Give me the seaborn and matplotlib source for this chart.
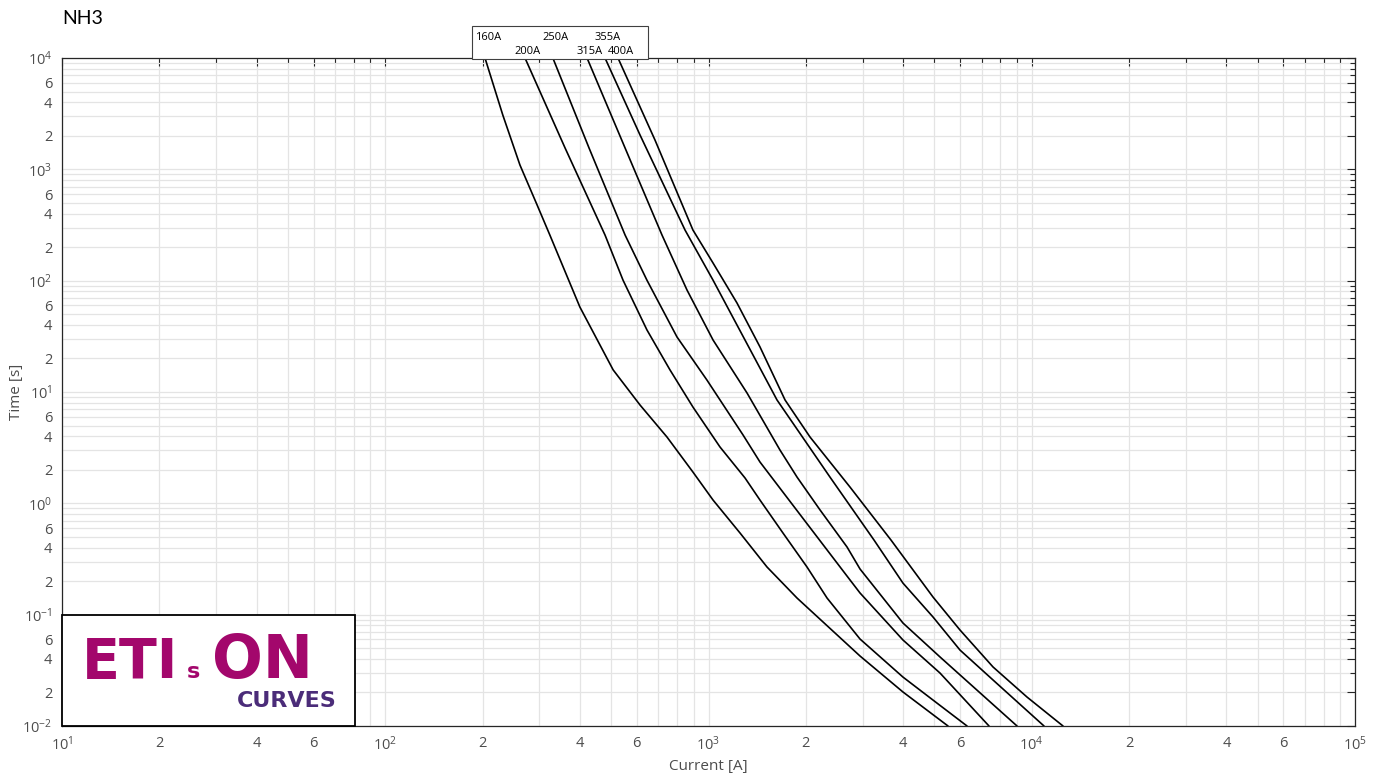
import numpy as np
import pandas as pd
import matplotlib
matplotlib.use('Agg')
import matplotlib.pyplot as plt
import seaborn as sns
from matplotlib import ticker, transforms
from matplotlib.patches import Rectangle

# curvas tiempo-corriente (corriente [A], tiempo [s])
ratings = ['160A', '200A', '250A', '315A', '355A', '400A']

i_160 = [203.5, 231, 261, 295, 323, 400, 507, 614, 744, 895, 1033, 1252, 1517, 1879, 2943, 3996, 5507]
t_160 = [10000, 3076, 1094, 478, 257, 58.0, 15.8, 7.64, 3.94, 1.91, 1.07, 0.541, 0.268, 0.141, 0.0425, 0.0202, 0.01]

i_200 = [270.6, 360, 478.5, 544, 645, 760, 895, 1085, 1297, 1443, 1700, 2017, 2327, 2943, 3996, 4949, 6306]
t_200 = [10000, 1555, 257, 101, 36.1, 15.8, 7.33, 3.21, 1.69, 1.07, 0.541, 0.268, 0.141, 0.0604, 0.0275, 0.0171, 0.01]

i_250 = [330, 427, 552, 645, 799, 989, 1279, 1443, 1988, 2740, 2943, 3996, 5202, 7375]
t_250 = [10000, 1555, 257, 101, 31.2, 12.8, 4.11, 2.35, 0.694, 0.205, 0.1565, 0.0592, 0.0299, 0.01]

i_315 = [421, 552, 718, 858, 1033, 1316, 1664, 1879, 2214, 2683, 2943, 3996, 5202, 6770, 9004]
t_315 = [10000, 1555, 257, 82.4, 29.3, 9.79, 3.01, 1.72, 0.871, 0.405, 0.257, 0.0841, 0.0417, 0.0210, 0.01]

i_355 = [478.5, 614, 846, 1033, 1297, 1629, 2376, 3251, 3996, 4949, 5998, 7589, 10912]
t_355 = [10000, 2034, 285, 101, 29.3, 8.48, 1.72, 0.468, 0.192, 0.0953, 0.0481, 0.0259, 0.01]

i_400 = [524.8, 683, 895, 1033, 1225, 1443, 1725, 2061, 2740, 3669, 4949, 5998, 7589, 9668, 12494]
t_400 = [10000, 1834, 285, 144, 63.0, 25.4, 8.48, 3.94, 1.40, 0.468, 0.144, 0.0728, 0.0339, 0.0182, 0.01]

currents = [i_160, i_200, i_250, i_315, i_355, i_400]
times = [t_160, t_200, t_250, t_315, t_355, t_400]

rows = []
for r, ii, tt in zip(ratings, currents, times):
    for a, b in zip(ii, tt):
        rows.append({'rating': r, 'current': a, 'time': b})
df = pd.DataFrame(rows)

sns.set_theme(style='white')
plt.rcParams['font.family'] = ['Open Sans', 'DejaVu Sans']
plt.rcParams['mathtext.default'] = 'regular'
plt.rcParams['axes.unicode_minus'] = False

W, H = 1380, 782
fig = plt.figure(figsize=(W / 100, H / 100), dpi=100)
ax = fig.add_axes([62 / W, 1 - 726 / H, (1355 - 62) / W, (726 - 58) / H])

sns.lineplot(data=df, x='current', y='time', units='rating', estimator=None,
             sort=False, color='black', lw=1.2, ax=ax, legend=False)

ax.set_xscale('log')
ax.set_yscale('log')
ax.set_xlim(10, 1e5)
ax.set_ylim(1e-2, 1e4)


def fmt(v, pos):
    e = int(np.floor(np.log10(v) + 1e-9))
    m = v / 10 ** e
    if abs(m - 1) < 1e-6:
        return r'$10^{%d}$' % e
    return '%d' % round(m)


def log_ticks(e0, e1, mants):
    return [m * 10.0 ** e for e in range(e0, e1) for m in mants]


ax.xaxis.set_major_locator(ticker.FixedLocator(log_ticks(1, 5, (1, 2, 4, 6)) + [1e5]))
ax.xaxis.set_minor_locator(ticker.FixedLocator(log_ticks(1, 5, (3, 5, 7, 8, 9))))
ax.yaxis.set_major_locator(ticker.FixedLocator(log_ticks(-2, 4, (1, 2, 4, 6)) + [1e4]))
ax.yaxis.set_minor_locator(ticker.FixedLocator(log_ticks(-2, 4, (3, 5, 7, 8, 9))))
ax.xaxis.set_major_formatter(ticker.FuncFormatter(fmt))
ax.yaxis.set_major_formatter(ticker.FuncFormatter(fmt))
ax.xaxis.set_minor_formatter(ticker.NullFormatter())
ax.yaxis.set_minor_formatter(ticker.NullFormatter())

ax.tick_params(which='both', direction='in', top=True, right=True,
               color='#262626', labelcolor='#4d4d4d', labelsize=10.5, width=0.8)
ax.tick_params(which='major', length=6, pad=7)
ax.tick_params(which='minor', length=3.5)
ax.grid(True, which='both', color='#e4e4e4', lw=0.9)
ax.set_axisbelow(True)
for s in ax.spines.values():
    s.set_color('#262626')
    s.set_linewidth(0.9)

ax.set_xlabel('Current [A]', fontsize=11, color='#4d4d4d')
ax.set_ylabel('Time [s]', fontsize=11, color='#4d4d4d')
ax.xaxis.set_label_coords(0.5, -(759 - 726) / 668)
ax.yaxis.set_label_coords(-(62 - 24) / 1293, 0.5)

fig.text(62 / W, 1 - 18 / H, 'NH3', fontsize=14, va='center', ha='left',
         family=['Lato', 'DejaVu Sans'], color='black')

# cuadro con los calibres
fig.add_artist(Rectangle((472 / W, 1 - 59 / H), 176 / W, 33 / H, transform=fig.transFigure,
                         fc='white', ec='#404040', lw=0.8, zorder=5))
blend = transforms.blended_transform_factory(ax.transData, fig.transFigure)
blend = transforms.offset_copy(blend, fig=fig, x=3, y=0, units='dots')
for k, (r, ii) in enumerate(zip(ratings, currents)):
    yy = 1 - 37 / H if k % 2 == 0 else 1 - 51 / H
    fig.text(ii[0], yy, r, transform=blend, ha='center', va='center', fontsize=8,
             color='black', zorder=6)

# logo
fig.add_artist(Rectangle((62 / W, 1 - 726 / H), 293 / W, 111 / H, transform=fig.transFigure,
                         fc='white', ec='black', lw=1.3, zorder=5))
logo = dict(family='DejaVu Sans', weight='bold', zorder=6, va='baseline', ha='left')
fig.text(82 / W, 1 - 678 / H, 'ETI', fontsize=40, color='#a3076c', **logo)
fig.text(187 / W, 1 - 678 / H, 's', fontsize=16, color='#a3076c', **logo)
fig.text(212 / W, 1 - 678 / H, 'ON', fontsize=43, color='#a3076c', **logo)
logo['ha'] = 'right'
fig.text(337 / W, 1 - 707 / H, 'CURVES', fontsize=16, color='#4b2c79', **logo)

fig.savefig('out.png', dpi=100)
